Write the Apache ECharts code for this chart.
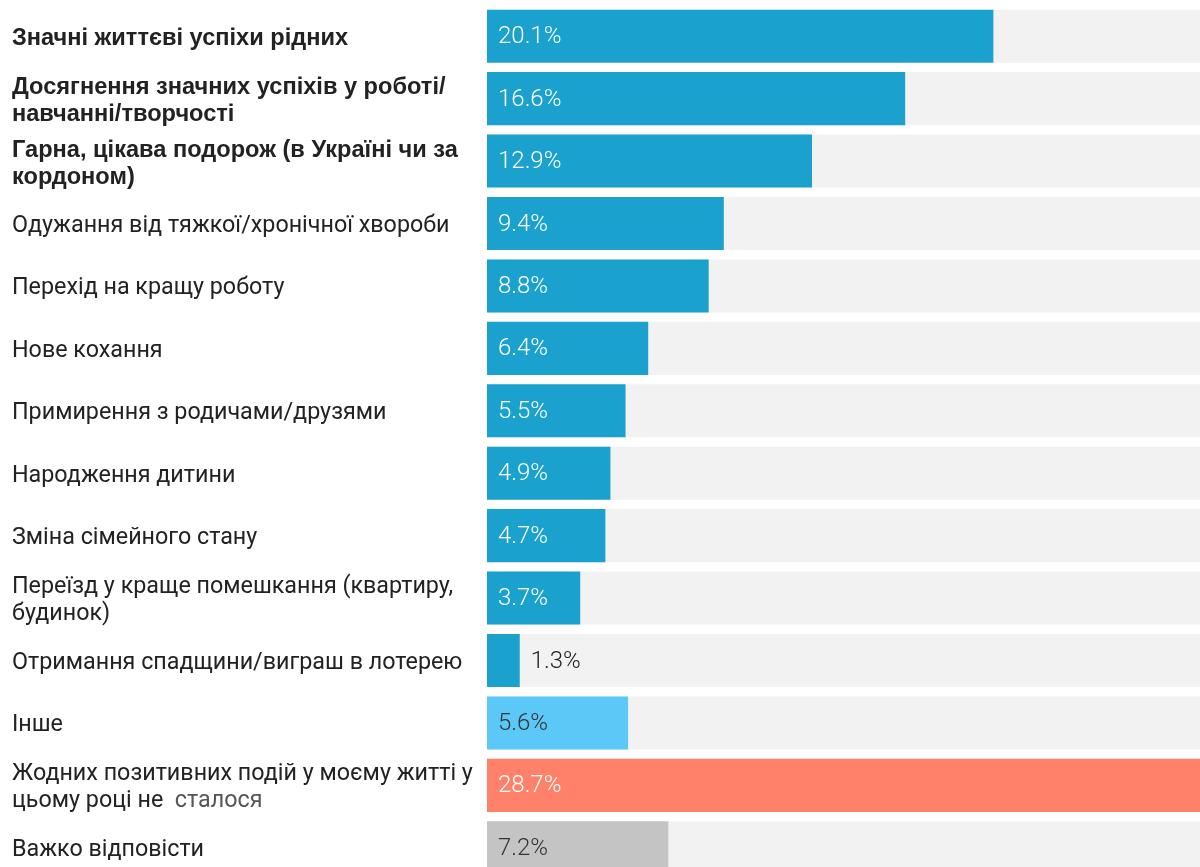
<!DOCTYPE html>
<html>
<head>
<meta charset="utf-8">
<script src="https://cdn.jsdelivr.net/npm/echarts@6/dist/echarts.min.js"></script>
<style>html,body{margin:0;padding:0;background:#fff;}#c{width:1200px;height:867px;}</style>
</head>
<body>
<div id="c"></div>
<script>
const categories = [
  'Значні життєві успіхи рідних',
  'Досягнення значних успіхів у роботі/ навчанні/творчості',
  'Гарна, цікава подорож (в Україні чи за кордоном)',
  'Одужання від тяжкої/хронічної хвороби',
  'Перехід на кращу роботу',
  'Нове кохання',
  'Примирення з родичами/друзями',
  'Народження дитини',
  'Зміна сімейного стану',
  'Переїзд у краще помешкання (квартиру, будинок)',
  'Отримання спадщини/виграш в лотерею',
  'Інше',
  'Жодних позитивних подій у моєму житті у цьому році не  сталося',
  'Важко відповісти'
];
const values = [20.1, 16.6, 12.9, 9.4, 8.8, 6.4, 5.5, 4.9, 4.7, 3.7, 1.3, 5.6, 28.7, 7.2];
const boldRows = [0, 1, 2];
const greyWords = ['сталося'];
const barColors = ['#1aa1cd','#1aa1cd','#1aa1cd','#1aa1cd','#1aa1cd','#1aa1cd','#1aa1cd','#1aa1cd','#1aa1cd','#1aa1cd','#1aa1cd','#5bc8f7','#ff8169','#c4c4c4'];
const labelColors = ['#fff','#fff','#fff','#fff','#fff','#fff','#fff','#fff','#fff','#fff','#222','#333','#fff','#333'];
const outsideRows = [10];

const LABEL_W = 464;
const FONT_N = { family: 'Roboto', size: 23.3, weight: 'normal' };
const FONT_B = { family: '"Liberation Sans"', size: 23.6, weight: 'bold' };
const ctx = document.createElement('canvas').getContext('2d');
function wrap(text, f) {
  ctx.font = f.weight + ' ' + f.size + 'px ' + f.family;
  const words = text.split(' ');
  const lines = [];
  let cur = '';
  for (const w of words) {
    const t = cur === '' ? w : cur + ' ' + w;
    if (cur !== '' && ctx.measureText(t).width > LABEL_W) { lines.push(cur); cur = w; }
    else cur = t;
  }
  if (cur !== '') lines.push(cur);
  return lines;
}
function fmt(value, idx) {
  const bold = boldRows.includes(idx);
  const st = bold ? 'b' : 'n';
  const lines = wrap(value, bold ? FONT_B : FONT_N);
  return lines.map(line => {
    for (const g of greyWords) {
      const k = line.lastIndexOf(g);
      if (k >= 0 && k + g.length === line.length) {
        return '{' + st + '|' + line.slice(0, k) + '}{g|' + g + '}';
      }
    }
    return '{' + st + '|' + line + '}';
  }).join('\n');
}

const baseText = { fontFamily: FONT_N.family, fontSize: FONT_N.size, lineHeight: 27, color: '#222' };
const chart = echarts.init(document.getElementById('c'));
chart.setOption({
  animation: false,
  grid: { left: 487, right: -10, top: 5, bottom: -12, containLabel: false, outerBoundsMode: 'none' },
  xAxis: { type: 'value', min: 0, max: 28.7, show: false },
  yAxis: {
    type: 'category',
    inverse: true,
    data: categories,
    axisLine: { show: false },
    axisTick: { show: false },
    axisLabel: {
      interval: 0,
      hideOverlap: false,
      align: 'left',
      margin: 475,
      padding: [5, 0, 0, 0],
      formatter: fmt,
      rich: {
        b: Object.assign({}, baseText, { fontFamily: 'Liberation Sans', fontSize: FONT_B.size, fontWeight: 'bold' }),
        n: Object.assign({}, baseText),
        g: Object.assign({}, baseText, { color: '#555' })
      }
    }
  },
  series: [{
    type: 'bar',
    barCategoryGap: '15%',
    showBackground: true,
    backgroundStyle: { color: '#f2f2f2' },
    data: values.map((v, i) => ({
      value: v,
      itemStyle: { color: barColors[i] },
      label: {
        position: outsideRows.includes(i) ? 'right' : 'insideLeft',
        distance: 11,
        color: labelColors[i]
      }
    })),
    label: {
      show: true,
      fontFamily: 'Roboto',
      fontSize: 24,
      fontWeight: 300,
      offset: [0, 1],
      formatter: p => p.value.toFixed(1) + '%'
    }
  }]
});
</script>
</body>
</html>
